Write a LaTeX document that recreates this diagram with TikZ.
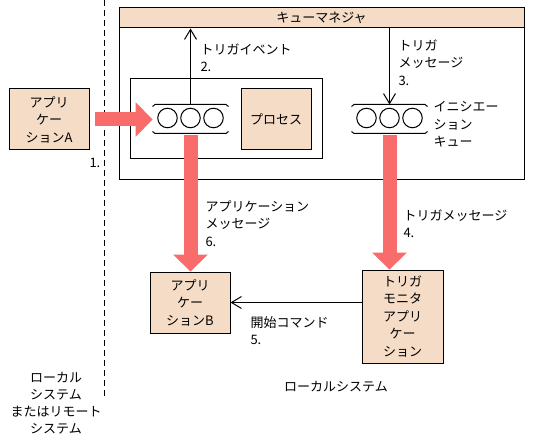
\documentclass[tikz,border=0pt]{standalone}
\usepackage{fontspec}
\newfontfamily\jp{Noto Sans CJK JP}
\usetikzlibrary{arrows.meta}
\definecolor{peach}{HTML}{F5DCC6}
\definecolor{redarrow}{HTML}{F86C6C}
\begin{document}
\begin{tikzpicture}[x=1pt,y=-1pt,line width=1pt,
  font=\jp\fontsize{13}{17.5}\selectfont,
  box/.style={draw, fill=peach, inner sep=0pt, align=center},
  plainbox/.style={draw, inner sep=0pt},
  qcircle/.style={circle, draw, minimum size=19.5pt, inner sep=0pt},
  queue/.style={minimum width=75pt, minimum height=28pt, inner sep=0pt},
  bigarrow/.style={draw=redarrow, line width=14pt, -{Triangle[length=17pt,width=35pt,line width=0pt]}},
  thinarrow/.style={-{Straight Barb[length=10pt,width=12pt]}},
  lbl/.style={inner sep=0pt, align=left, anchor=north west},
  sysline/.style={dash pattern=on 6pt off 4pt}]
\useasboundingbox (0,0) rectangle (537,446);

% dashed system boundary
\coordinate (dtop) at (104,0);
\coordinate (dbot) at (104,397);
\draw[sysline] (dtop) -- (dbot);

% queue manager
\node[plainbox, minimum width=405pt, minimum height=172pt] (qm) at (321.5,94) {};
\node[box, minimum width=405pt, minimum height=20pt] (qmhead) at (321.5,18) {キューマネジャ};

% process container
\node[plainbox, minimum width=192pt, minimum height=80pt] (pbox) at (226,119) {};
\node[box, minimum width=70pt, minimum height=61pt] (proc) at (276,119.5) {プロセス};

% queue 1
\node[queue] (q1) at (190.5,119) {};
\node[qcircle] (q1a) at (167.5,118) {};
\node[qcircle] (q1b) at (190.5,118) {};
\node[qcircle] (q1c) at (213.5,118) {};
\draw ([yshift=-2pt]q1.north west) -- ([xshift=2.5pt]q1.north west) -- ([xshift=-2.5pt]q1.north east) -- ([yshift=-2pt]q1.north east);
\draw ([yshift=2pt]q1.south west) -- ([xshift=2.5pt]q1.south west) -- ([xshift=-2.5pt]q1.south east) -- ([yshift=2pt]q1.south east);

% queue 2 (initiation queue)
\node[queue] (q2) at (389.5,119) {};
\node[qcircle] (q2a) at (366.5,118) {};
\node[qcircle] (q2b) at (389.5,118) {};
\node[qcircle] (q2c) at (412.5,118) {};
\draw ([yshift=-2pt]q2.north west) -- ([xshift=2.5pt]q2.north west) -- ([xshift=-2.5pt]q2.north east) -- ([yshift=-2pt]q2.north east);
\draw ([yshift=2pt]q2.south west) -- ([xshift=2.5pt]q2.south west) -- ([xshift=-2.5pt]q2.south east) -- ([yshift=2pt]q2.south east);

% applications
\node[box, minimum width=80pt, minimum height=61pt] (appA) at (49,119.5) {アプリ\\ケー\\ションA};
\node[box, minimum width=80pt, minimum height=61pt] (appB) at (190,302.5) {アプリ\\ケー\\ションB};
\node[box, minimum width=81pt, minimum height=93pt] (tm) at (402.5,316.5) {トリガ\\モニタ\\アプリ\\ケー\\ション};

% connectors
\draw[bigarrow, shorten <=5pt] (appA.east) -- (appA.east -| q1.west);
\draw[bigarrow, shorten <=2pt] (q1.south) -- (q1.south |- appB.north);
\draw[bigarrow, shorten <=2pt] (q2.south) -- (q2.south |- tm.north);
\draw[thinarrow] (q1.north) -- (q1.north |- qmhead.south);
\draw[thinarrow] (q2.north |- qmhead.south) -- (q2.north);
\draw[thinarrow] (tm.west |- appB.east) -- (appB.east);

% labels
\node[inner sep=0pt, anchor=west] (l1) at (89,163) {1.};
\node[lbl] (l2) at (200,43) {トリガイベント\\2.};
\node[lbl] (l3) at (398,39) {トリガ\\メッセージ\\3.};
\node[lbl] (liq) at (433,101) {イニシエー\\ション\\キュー};
\node[lbl] (l6) at (205,200) {アプリケーション\\メッセージ\\6.};
\node[lbl] (l4) at (403,209) {トリガメッセージ\\4.};
\node[lbl] (l5) at (250,316) {開始コマンド\\5.};
\node (local) at (336,387) {ローカルシステム};
\node[align=center, font=\jp\fontsize{13}{17}\selectfont] (remote) at (56,403.5) {ローカル\\システム\\またはリモート\\システム};
\end{tikzpicture}
\end{document}
